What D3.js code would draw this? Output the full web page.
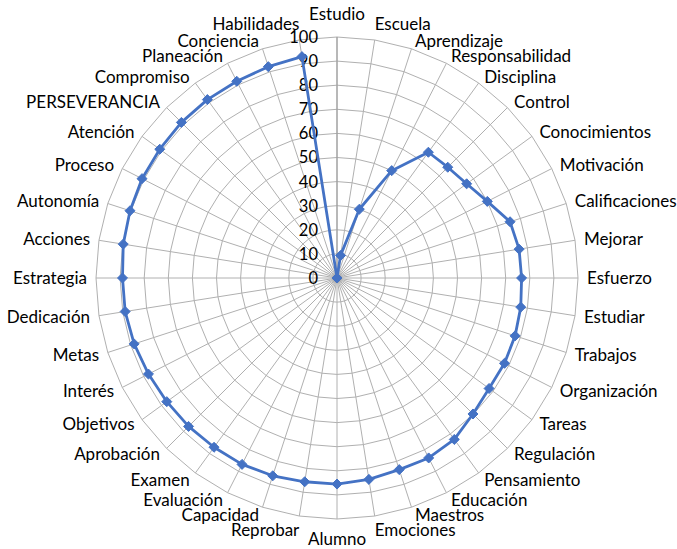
<!DOCTYPE html>
<html>
<head>
<meta charset="utf-8">
<script src="https://cdn.jsdelivr.net/npm/d3@7"></script>
<style>
  html, body { margin: 0; padding: 0; background: #ffffff; }
  svg { display: block; }
  text { font-family: Lato, "Open Sans", sans-serif; fill: #000; }
</style>
</head>
<body>
<svg id="chart" width="677" height="549"></svg>
<script>
const categories = ["Estudio","Escuela","Aprendizaje","Responsabilidad","Disciplina","Control","Conocimientos","Motivación","Calificaciones","Mejorar","Esfuerzo","Estudiar","Trabajos","Organización","Tareas","Regulación","Pensamiento","Educación","Maestros","Emociones","Alumno","Reprobar","Capacidad","Evaluación","Examen","Aprobación","Objetivos","Interés","Metas","Dedicación","Estrategia","Acciones","Autonomía","Proceso","Atención","PERSEVERANCIA","Compromiso","Planeación","Conciencia","Habilidades"];
const values = [0, 9.5, 30, 50, 64.5, 65, 66.5, 70, 75.5, 76.5, 76.6, 77.2, 77.7, 78, 78, 79.8, 82.8, 83.8, 83.6, 84.6, 85.5, 85.6, 86.3, 86.8, 86.8, 87.1, 87.3, 87.8, 88.5, 89, 89, 89.8, 90.3, 90.8, 90.9, 91.3, 91.5, 91.6, 92.2, 93];
const tickValues = [0, 10, 20, 30, 40, 50, 60, 70, 80, 90, 100];

const svg = d3.select("#chart");
const cx = 337, cy = 278, R = 241;
const n = categories.length;
const r = d3.scaleLinear().domain([0, 100]).range([0, R]);
const ang = d3.scaleLinear().domain([0, n]).range([0, 2 * Math.PI]);
const px = (i, v) => cx + r(v) * Math.sin(ang(i));
const py = (i, v) => cy - r(v) * Math.cos(ang(i));

const g = svg.append("g");
const gridColor = "#b0b0b0";

// polygon rings
tickValues.filter(t => t > 0).forEach(t => {
  const pts = d3.range(n).map(i => [px(i, t), py(i, t)]);
  g.append("path")
    .attr("d", d3.line().curve(d3.curveLinearClosed)(pts))
    .attr("fill", "none").attr("stroke", gridColor).attr("stroke-width", 1);
});
// spokes
d3.range(n).forEach(i => {
  g.append("line")
    .attr("x1", cx).attr("y1", cy)
    .attr("x2", px(i, 100)).attr("y2", py(i, 100))
    .attr("stroke", i === 0 ? "#a0a0a0" : gridColor)
    .attr("stroke-width", i === 0 ? 1.5 : 1);
});

// tick labels
g.selectAll(".tick").data(tickValues).enter().append("text")
  .attr("x", cx - 19).attr("y", d => cy - r(d))
  .attr("dy", "0.36em").attr("text-anchor", "end")
  .style("font-size", "16.5px").text(d => d);

// series line
const radial = d3.lineRadial()
  .angle((d, i) => ang(i)).radius(d => r(d))
  .curve(d3.curveLinearClosed);
g.append("path")
  .attr("transform", `translate(${cx},${cy})`)
  .attr("d", radial(values))
  .attr("fill", "none").attr("stroke", "#4472C4")
  .attr("stroke-width", 2.8).attr("stroke-linejoin", "round");

// markers
const diamond = d3.symbol().type(d3.symbolDiamond2).size(64);
g.selectAll(".mk").data(values).enter().append("path")
  .attr("d", diamond)
  .attr("transform", (d, i) => `translate(${px(i, d)},${py(i, d)})`)
  .attr("fill", "#4472C4").attr("stroke", "#4472C4").attr("stroke-width", 1);

// category labels
categories.forEach((c, i) => {
  const th = ang(i);
  const s = Math.sin(th), co = Math.cos(th);
  const vx = px(i, 100), vy = py(i, 100);
  let x, y, anchor;
  if (Math.abs(s) < 0.01) {
    anchor = "middle"; x = vx;
    y = co > 0 ? vy - 23 : vy + 20;
  } else if (Math.abs(co) > 0.97) {
    anchor = s > 0 ? "start" : "end";
    x = vx;
    y = co > 0 ? vy - 16 : vy + 14;
  } else {
    anchor = s > 0 ? "start" : "end";
    x = vx + 8 * s + (s > 0 ? 1 : -1);
    y = vy - 8 * co;
  }
  g.append("text")
    .attr("x", x).attr("y", y).attr("dy", "0.36em")
    .attr("text-anchor", anchor)
    .style("font-size", "17px").text(c);
});
</script>
</body>
</html>
